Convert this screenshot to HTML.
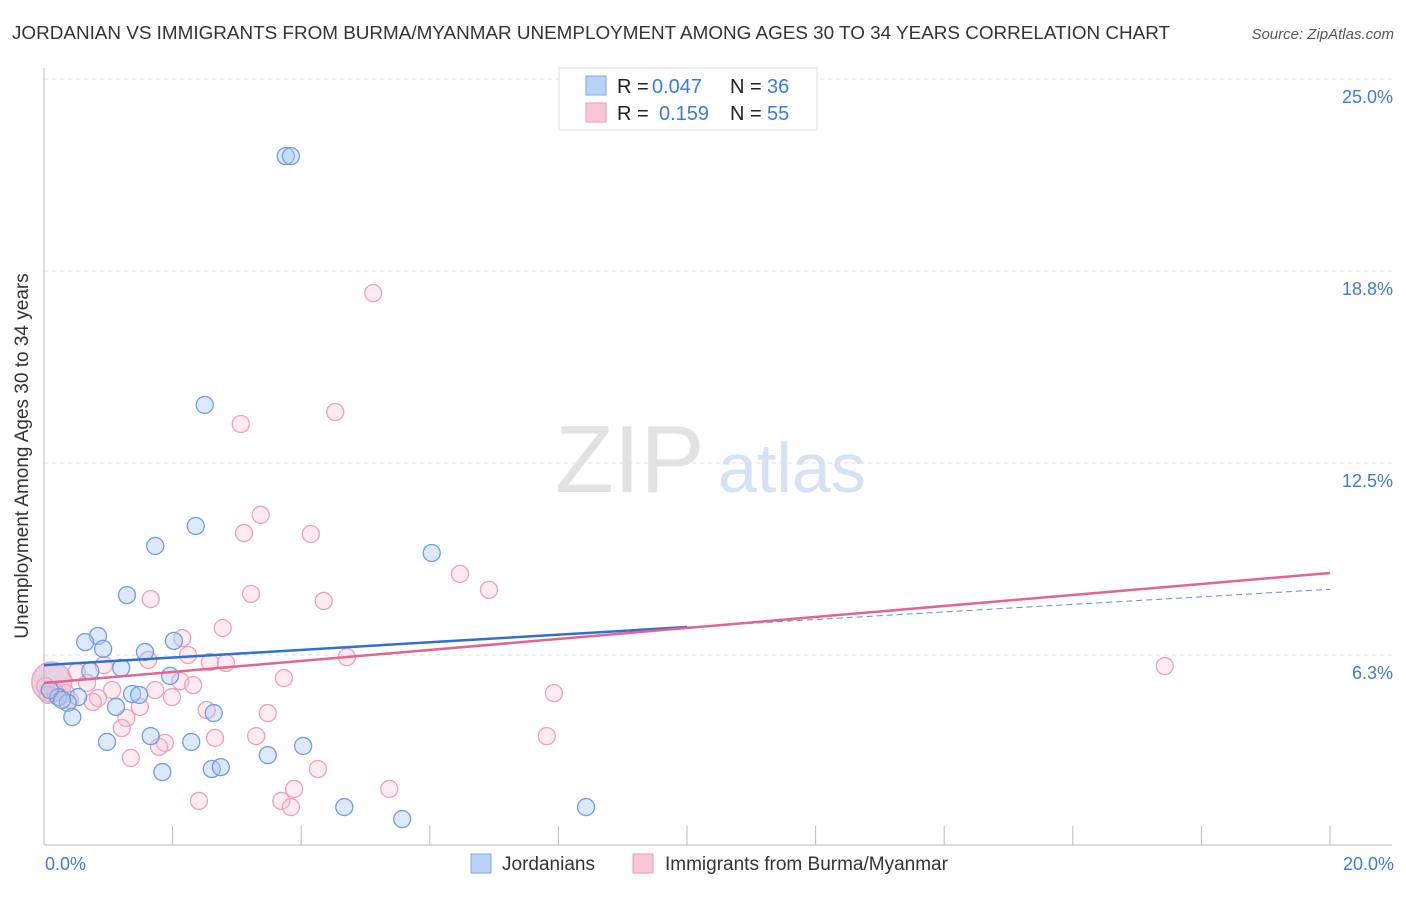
<!DOCTYPE html>
<html><head><meta charset="utf-8"><style>
body{margin:0;background:#fff;font-family:"Liberation Sans",sans-serif;}
svg text{font-family:"Liberation Sans",sans-serif;}
</style></head><body>
<svg width="1406" height="892">
<text x="12" y="39" font-size="18" fill="#333" textLength="1158" lengthAdjust="spacingAndGlyphs">JORDANIAN VS IMMIGRANTS FROM BURMA/MYANMAR UNEMPLOYMENT AMONG AGES 30 TO 34 YEARS CORRELATION CHART</text>
<text x="1394" y="39" font-size="15" fill="#555" font-style="italic" text-anchor="end">Source: ZipAtlas.com</text>
<g>
<text x="555" y="492" font-size="96" fill="#e2e2e2" font-family="Liberation Serif,serif">ZIP</text>
<text x="718" y="492" font-size="70" fill="#d5e2f5">atlas</text>
</g>
<g id="grid"></g>
<line x1="44" y1="68" x2="44" y2="845" stroke="#bbb"/>
<line x1="44" y1="845" x2="1392" y2="845" stroke="#bbb"/>
<g id="xticks"></g>
<text x="28" y="456" font-size="19" fill="#333" text-anchor="middle" transform="rotate(-90 28 456)">Unemployment Among Ages 30 to 34 years</text>
<text x="45" y="870" font-size="18" fill="#3d7bd9">0.0%</text>
<text x="1394" y="870" font-size="18" fill="#3d7bd9" text-anchor="end">20.0%</text>
<g id="points"></g>
<g id="lines"></g>
<g>
<rect x="559" y="68" width="258" height="62" fill="#fff" stroke="#ddd"/>
<rect x="586" y="76" width="20" height="19" fill="#b8d3f7" stroke="#7fa9e6"/>
<rect x="586" y="103" width="20" height="19" fill="#f9c6d5" stroke="#ec9ab3"/>
<text x="617" y="93" font-size="20" fill="#222">R =</text><text x="652" y="93" font-size="20" fill="#3d7bd9">0.047</text>
<text x="730" y="93" font-size="20" fill="#222">N =</text><text x="767" y="93" font-size="20" fill="#3d7bd9">36</text>
<text x="617" y="120" font-size="20" fill="#222">R =</text><text x="659" y="120" font-size="20" fill="#3d7bd9">0.159</text>
<text x="730" y="120" font-size="20" fill="#222">N =</text><text x="767" y="120" font-size="20" fill="#3d7bd9">55</text>
</g>
<g>
<rect x="471" y="854" width="20" height="19" fill="#b8d3f7" stroke="#7fa9e6"/>
<text x="502" y="870" font-size="19" fill="#333">Jordanians</text>
<rect x="633" y="854" width="20" height="19" fill="#f9c6d5" stroke="#ec9ab3"/>
<text x="665" y="870" font-size="19" fill="#333">Immigrants from Burma/Myanmar</text>
</g>
</svg>
<script>
const yTicks=[6.25,12.5,18.75,25];
const yTickLabels=["6.3%","12.5%","18.8%","25.0%"];
const xTickVals=[2,4,6,8,10,12,14,16,18,20];
const blueX=[3.76,3.84,2.50,2.36,1.73,6.03,1.29,0.84,0.64,0.92,1.57,2.02,1.20,0.72,1.96,0.53,1.37,1.48,0.22,0.37,1.12,2.64,0.44,1.66,0.98,2.29,4.03,3.48,1.84,2.61,2.75,4.67,8.43,5.57,0.09,0.28];
const blueY=[22.49,22.49,14.39,10.45,9.80,9.57,8.20,6.87,6.67,6.45,6.35,6.71,5.83,5.73,5.57,4.88,4.98,4.95,4.88,4.69,4.56,4.36,4.23,3.61,3.42,3.42,3.29,2.99,2.44,2.54,2.60,1.30,1.30,0.91,5.11,4.79];
const pinkX=[5.12,4.53,3.06,3.37,3.11,4.15,6.47,6.92,1.66,3.22,4.35,2.78,2.15,1.62,2.24,2.58,2.83,4.71,0.93,0.51,0.67,2.12,2.32,3.73,1.06,1.73,0.84,1.99,7.93,0.76,1.49,2.53,3.48,1.28,1.21,2.66,3.30,7.82,1.88,1.79,1.35,4.26,3.89,5.37,2.41,3.69,3.84,17.43,0.12,0.17,0.25,0.40,0.02,0.06,0.34];
const pinkY=[18.03,14.16,13.77,10.81,10.22,10.19,8.89,8.37,8.07,8.24,8.01,7.13,6.80,6.09,6.25,6.02,5.99,6.18,5.92,5.70,5.34,5.40,5.27,5.50,5.11,5.11,4.85,4.88,5.01,4.72,4.56,4.46,4.36,4.20,3.87,3.55,3.61,3.61,3.39,3.26,2.90,2.54,1.89,1.89,1.50,1.50,1.30,5.89,5.37,5.05,4.88,4.79,5.24,4.95,5.01];
const pinkBig=[48];
const blueTrend=[5.92,7.16,8.39];
const pinkTrend=[5.34,8.92];
const sx=v=>44+v*64.3, sy=v=>847-v*30.72;
const NS="http://www.w3.org/2000/svg";
function mk(t,a,p){const e=document.createElementNS(NS,t);for(const k in a)e.setAttribute(k,a[k]);p.appendChild(e);return e;}
const grid=document.getElementById('grid');
yTicks.forEach((v,i)=>{
 const l=mk('line',{x1:44,x2:1392,y1:sy(v),y2:sy(v),stroke:'#ddd','stroke-dasharray':'4,4'},grid);
 
 
 const t=mk('text',{x:1393,y:sy(v)+24,'font-size':18,fill:'#3d7bd9','text-anchor':'end'},grid);
 t.textContent=yTickLabels[i];
 
 
});
const xt=document.getElementById('xticks');
xTickVals.forEach(v=>{
 const l=mk('line',{x1:sx(v),x2:sx(v),y1:826,y2:845,stroke:'#bbb'},xt);
 
 
});
const pts=document.getElementById('points');
pinkX.forEach((x,i)=>{
 const r=pinkBig.includes(i)?20:8.5;
 const c=mk('circle',{cx:sx(x),cy:sy(pinkY[i]),r:r,fill:r>10?'rgba(200,150,190,0.45)':'rgba(248,190,208,0.3)',stroke:'#eda0b8','stroke-width':1.3},pts);
 
 
});
blueX.forEach((x,i)=>{
 const c=mk('circle',{cx:sx(x),cy:sy(blueY[i]),r:8.5,fill:'rgba(170,200,240,0.4)',stroke:'#6d9ee0','stroke-width':1.3},pts);
 
 
});
const ln=document.getElementById('lines');
let b1=mk('line',{x1:sx(0),y1:sy(blueTrend[0]),x2:sx(10),y2:sy(blueTrend[1]),stroke:'#2d6fd6','stroke-width':2.5},ln);


let b2=mk('line',{x1:sx(10),y1:sy(blueTrend[1]),x2:sx(20),y2:sy(blueTrend[2]),stroke:'#5a8fdc','stroke-width':1,'stroke-dasharray':'6,4'},ln);


let p1=mk('line',{x1:sx(0),y1:sy(pinkTrend[0]),x2:sx(20),y2:sy(pinkTrend[1]),stroke:'#e5638f','stroke-width':2.5},ln);


</script>
</body></html>
